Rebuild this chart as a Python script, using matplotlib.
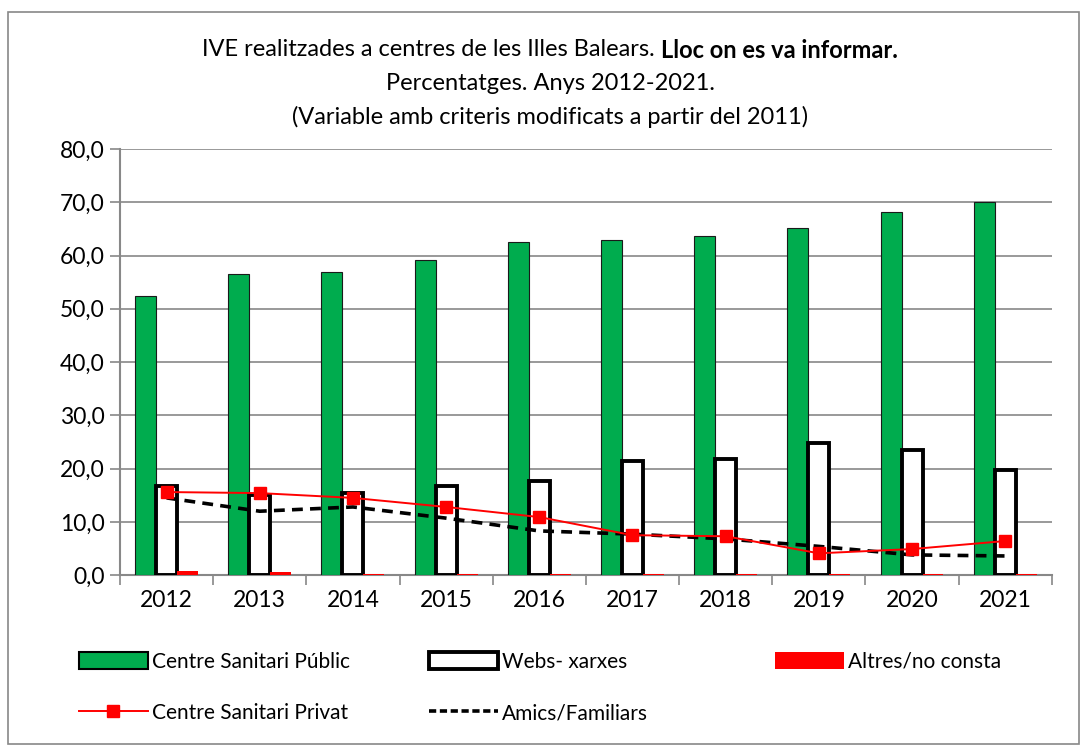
import numpy as np
import matplotlib.pyplot as plt
from matplotlib.patches import Rectangle, Patch
from matplotlib.lines import Line2D
from matplotlib.ticker import FuncFormatter, FixedLocator

plt.rcParams['font.family'] = ['Lato', 'DejaVu Sans']

years = ['2012', '2013', '2014', '2015', '2016', '2017', '2018', '2019', '2020', '2021']
public = [52.4, 56.5, 56.9, 59.2, 62.5, 62.9, 63.7, 65.2, 68.2, 70.0]
webs = [16.7, 15.0, 15.4, 16.7, 17.7, 21.4, 21.8, 24.8, 23.5, 19.7]
altres = [0.8, 0.5, 0.2, 0.2, 0.2, 0.2, 0.2, 0.2, 0.2, 0.2]
privat = [15.6, 15.4, 14.5, 12.8, 10.9, 7.5, 7.3, 4.1, 4.9, 6.4]
amics = [14.5, 12.0, 12.8, 10.7, 8.3, 7.7, 6.8, 5.4, 3.8, 3.6]

green = '#00AC4E'
red = '#FF0000'

fig = plt.figure(figsize=(10.81, 7.45), dpi=100)
ax = fig.add_axes([0.111, 0.228, 0.862, 0.572])

x = np.arange(len(years))
w = 0.225
ax.bar(x - w, public, w, color=green, edgecolor='#1a1a1a', linewidth=0.8, zorder=3)
ax.bar(x, webs, w, color='white', edgecolor='black', linewidth=2.8, zorder=3)
ax.bar(x + w, altres, w, color=red, linewidth=0, zorder=3)
ax.plot(x, privat, color=red, lw=1.4, marker='s', markersize=8, zorder=5)
ax.plot(x, amics, color='black', lw=2.6, ls=(0, (3, 2)), zorder=4)

ax.set_xlim(-0.5, len(years) - 0.5)
ax.set_ylim(0, 80)
ax.set_yticks(np.arange(0, 81, 10))
ax.yaxis.set_major_formatter(FuncFormatter(lambda v, p: f'{v:.1f}'.replace('.', ',')))
ax.set_xticks(x)
ax.set_xticklabels(years)
ax.xaxis.set_minor_locator(FixedLocator(np.arange(-0.5, len(years), 1)))
ax.tick_params(axis='x', which='major', length=0, pad=11, labelsize=16.5)
ax.tick_params(axis='x', which='minor', length=7, color='#888888', width=1.2)
ax.tick_params(axis='y', length=7, color='#888888', width=1.2, labelsize=16.5, pad=4)
ax.grid(axis='y', color='#888888', lw=1.2, zorder=0)
for s in ['top', 'right']:
    ax.spines[s].set_visible(False)
for s in ['left', 'bottom']:
    ax.spines[s].set_color('#888888')
    ax.spines[s].set_linewidth(1.5)

# title, bold tail on the first line
t1 = fig.text(0.5, 1 - 50 / 745, 'IVE realitzades a centres de les Illes Balears. ', fontsize=17, ha='right', va='center')
t2 = fig.text(0.5, 1 - 50 / 745, 'Lloc on es va informar.', fontsize=17, ha='left', va='center', fontweight='bold')
r = fig.canvas.get_renderer()
w1 = t1.get_window_extent(r).width / fig.bbox.width
w2 = t2.get_window_extent(r).width / fig.bbox.width
cx = 550 / 1081
t1.set_x(cx - (w1 + w2) / 2 + w1)
t2.set_x(cx - (w1 + w2) / 2 + w1)
fig.text(cx, 1 - 83 / 745, 'Percentatges. Anys 2012-2021.', fontsize=17, ha='center', va='center')
fig.text(cx, 1 - 117 / 745, '(Variable amb criteris modificats a partir del 2011)', fontsize=17, ha='center', va='center')

h_pub = Patch(facecolor=green, edgecolor='black', linewidth=1.5)
h_web = Patch(facecolor='white', edgecolor='black', linewidth=2.8)
h_alt = Patch(facecolor=red, linewidth=0)
h_pri = Line2D([], [], color=red, lw=1.4, marker='s', markersize=8)
h_ami = Line2D([], [], color='black', lw=2.6, ls=(0, (2, 1)))

kw = dict(frameon=False, fontsize=15, handlelength=3.3, handleheight=0.9, handletextpad=0.2,
          labelspacing=1.5, borderpad=0, borderaxespad=0, loc='upper left')
fig.legend([h_pub, h_pri], ['Centre Sanitari Públic', 'Centre Sanitari Privat'],
           bbox_to_anchor=(79 / 1081, 1 - 652 / 745), **kw)
fig.legend([h_web, h_ami], ['Webs- xarxes', 'Amics/Familiars'],
           bbox_to_anchor=(429 / 1081, 1 - 652 / 745), **kw)
fig.legend([h_alt], ['Altres/no consta'],
           bbox_to_anchor=(775 / 1081, 1 - 652 / 745), **kw)

fig.add_artist(Rectangle((8 / 1081, 0.002), 1 - 10 / 1081, 1 - 12 / 745 - 0.002, transform=fig.transFigure,
                         fill=False, edgecolor='#888888', lw=1.2))

fig.savefig('out.png', dpi=100)
